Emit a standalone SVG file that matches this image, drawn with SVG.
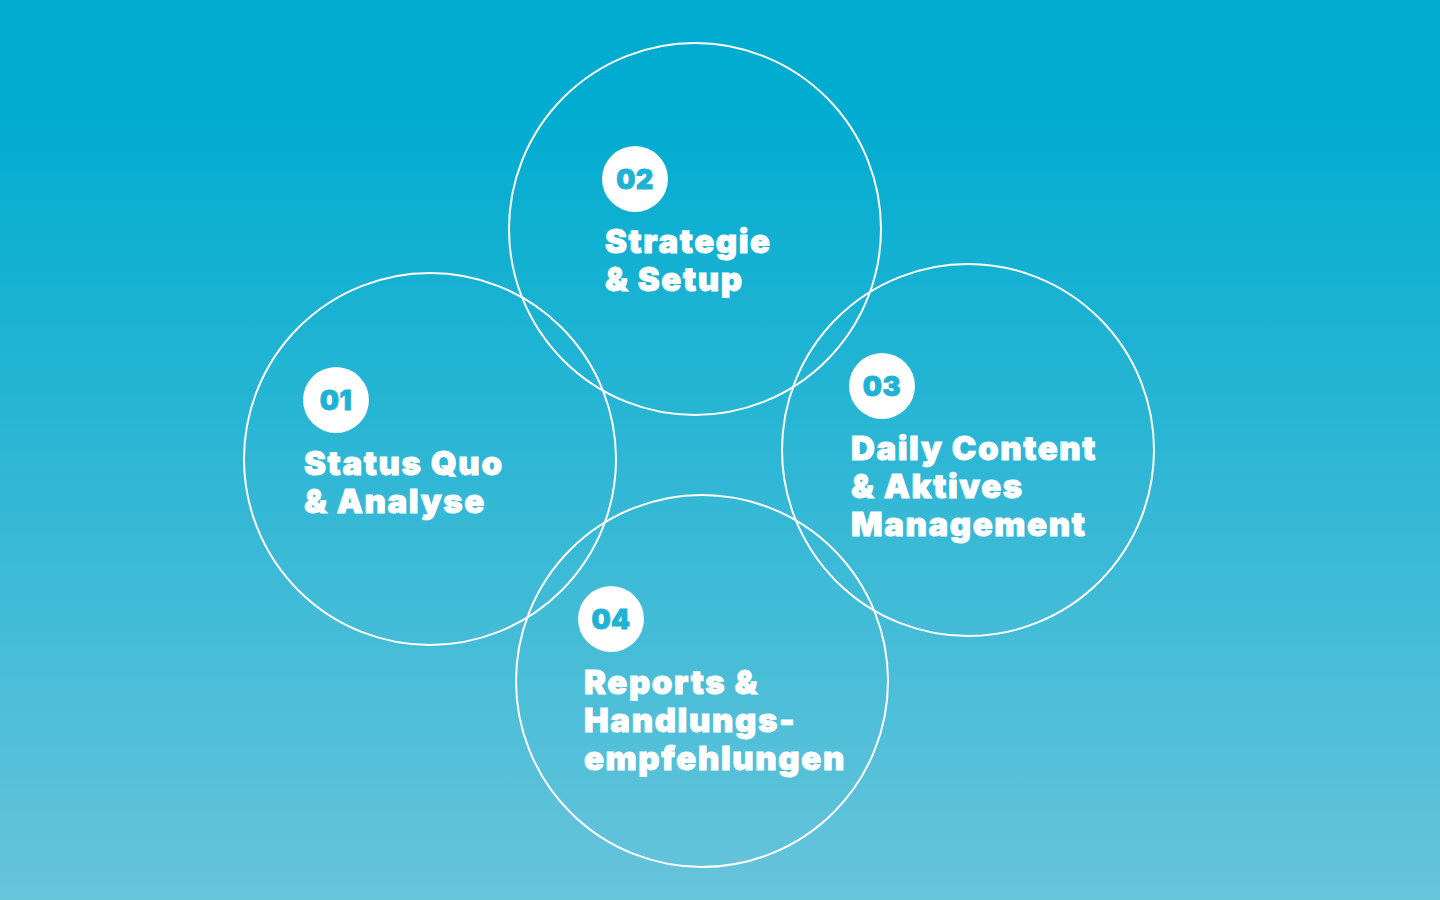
<svg xmlns="http://www.w3.org/2000/svg" width="1440" height="900" viewBox="0 0 1440 900">
<defs>
<linearGradient id="bg" x1="0" y1="0" x2="0" y2="1">
<stop offset="0" stop-color="#00ABCF"/>
<stop offset="0.12" stop-color="#00ACD0"/>
<stop offset="1" stop-color="#67C4DB"/>
</linearGradient>
<style>
.ring{fill:none;stroke:#ffffff;stroke-width:2}
.badge{fill:#ffffff}
.num{font-family:Inter,"Liberation Sans",sans-serif;font-weight:900;font-size:27px;fill:#1EB2D5;stroke:#1EB2D5;stroke-width:0.8px;text-anchor:middle;letter-spacing:0.5px}
.lbl{font-family:Inter,"Liberation Sans",sans-serif;font-weight:900;font-size:33px;fill:#ffffff;stroke:#ffffff;stroke-width:0.9px;letter-spacing:1.6px}
</style>
</defs>
<rect x="0" y="0" width="1440" height="900" fill="url(#bg)"/>
<g id="connectors"></g>
<g id="node-01">
<circle class="ring" cx="430" cy="459" r="186"/>
<circle class="badge" cx="336" cy="400" r="33"/>
<text class="num" x="336" y="410">01</text>
<text class="lbl" x="304" y="475">Status Quo</text>
<text class="lbl" x="304" y="513">&amp; Analyse</text>
</g>
<g id="node-02">
<circle class="ring" cx="695" cy="229" r="186"/>
<circle class="badge" cx="635" cy="179" r="33"/>
<text class="num" x="635" y="189">02</text>
<text class="lbl" x="605" y="253">Strategie</text>
<text class="lbl" x="605" y="291">&amp; Setup</text>
</g>
<g id="node-03">
<circle class="ring" cx="968" cy="450" r="186"/>
<circle class="badge" cx="882" cy="386" r="33"/>
<text class="num" x="882" y="396">03</text>
<text class="lbl" x="851" y="460">Daily Content</text>
<text class="lbl" x="851" y="498">&amp; Aktives</text>
<text class="lbl" x="851" y="536">Management</text>
</g>
<g id="node-04">
<circle class="ring" cx="702" cy="681" r="186"/>
<circle class="badge" cx="611" cy="619" r="33"/>
<text class="num" x="611" y="629">04</text>
<text class="lbl" x="584" y="694">Reports &amp;</text>
<text class="lbl" x="584" y="732">Handlungs-</text>
<text class="lbl" x="584" y="770">empfehlungen</text>
</g>
</svg>
